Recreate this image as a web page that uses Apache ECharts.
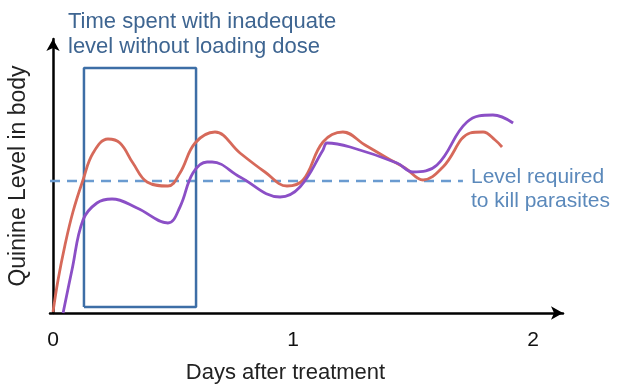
<!DOCTYPE html>
<html><head><meta charset="utf-8">
<script src="https://cdn.jsdelivr.net/npm/echarts@6/dist/echarts.min.js"></script>
<style>html,body{margin:0;padding:0;background:#fff}#c{width:619px;height:385px}</style>
</head><body><div id="c"></div>
<script>
// Days after treatment (x) and Quinine level (arbitrary units, y)
const redX = [0.000,0.021,0.050,0.083,0.125,0.167,0.229,0.279,0.333,0.392,0.479,0.529,0.592,0.675,0.779,0.883,0.975,1.042,1.125,1.208,1.300,1.392,1.467,1.542,1.625,1.738,1.792,1.842,1.871];
const redY = [1,33,68,101,133,160,174,170,150,131,127,140,170,181,160,141,127,133,171,181,168,155,145,133,146,180,181,173,166];
const purpleX = [0.042,0.079,0.125,0.183,0.246,0.350,0.479,0.529,0.583,0.642,0.663,0.779,0.946,1.029,1.125,1.142,1.238,1.433,1.500,1.600,1.725,1.833,1.917];
const purpleY = [0,43,93,110,114,105,90,106,140,151,151,136,116,126,163,170,166,150,141,148,191,198,190];
const thresholdLevel = 132;
const thresholdEndX = 1.708;
const boxX = [0.129, 0.596];
const boxY = [6, 245];
const xTicks = [0, 1, 2];
const xMin = -0.0125, xMax = 2.125, yMax = 274;

const zip = (a, b) => a.map((v, i) => [v, b[i]]);
const chart = echarts.init(document.getElementById('c'));
const font = 'Liberation Sans, Arial, sans-serif';
chart.setOption({
  animation: false,
  grid: {left: 50, right: 56, top: 39, bottom: 72, containLabel: false, outerBoundsMode: 'none'},
  xAxis: {
    type: 'value', min: xMin, max: xMax,
    name: 'Days after treatment', nameLocation: 'middle', nameGap: 49,
    nameTextStyle: {fontSize: 22, color: '#222', fontFamily: font, padding: [0, 42, 0, 0]},
    axisLine: {onZero: false, lineStyle: {color: '#000', width: 2.5}, symbol: ['none', 'arrow'], symbolSize: [10, 12]},
    axisTick: {show: false},
    splitLine: {show: false},
    axisLabel: {customValues: xTicks, fontSize: 21, color: '#111', margin: 17, fontFamily: font}
  },
  yAxis: {
    type: 'value', min: 0, max: yMax,
    name: 'Quinine Level in body', nameLocation: 'middle', nameGap: 20,
    nameTextStyle: {fontSize: 23, color: '#222', fontFamily: font},
    axisLine: {show: true, lineStyle: {color: '#000', width: 2.5}, symbol: ['none', 'arrow'], symbolSize: [10, 12]},
    axisTick: {show: false}, axisLabel: {show: false}, splitLine: {show: false}
  },
  series: [
    {type: 'line', data: [[xMin, thresholdLevel], [thresholdEndX, thresholdLevel]], showSymbol: false,
     lineStyle: {color: '#6a9bd0', width: 2.5, type: [10, 7]}, z: 1},
    {type: 'line', data: [[boxX[0], boxY[0]], [boxX[1], boxY[0]], [boxX[1], boxY[1]], [boxX[0], boxY[1]], [boxX[0], boxY[0]]],
     showSymbol: false, lineStyle: {color: '#3d6ea6', width: 2.5}, z: 2},
    {type: 'line', data: zip(redX, redY), smooth: 0.4, showSymbol: false,
     lineStyle: {color: '#d6695a', width: 2.8}, z: 3},
    {type: 'line', data: zip(purpleX, purpleY), smooth: 0.4, showSymbol: false,
     lineStyle: {color: '#8b4fc6', width: 2.8}, z: 4}
  ],
  graphic: [
    {type: 'text', left: 68, top: 9, style: {text: 'Time spent with inadequate\nlevel without loading dose', fontSize: 22, lineHeight: 25, fill: '#3e6591', fontFamily: font}},
    {type: 'text', left: 471, top: 165, style: {text: 'Level required\nto kill parasites', fontSize: 21, lineHeight: 24, fill: '#5b89bb', fontFamily: font}}
  ]
});
</script></body></html>
